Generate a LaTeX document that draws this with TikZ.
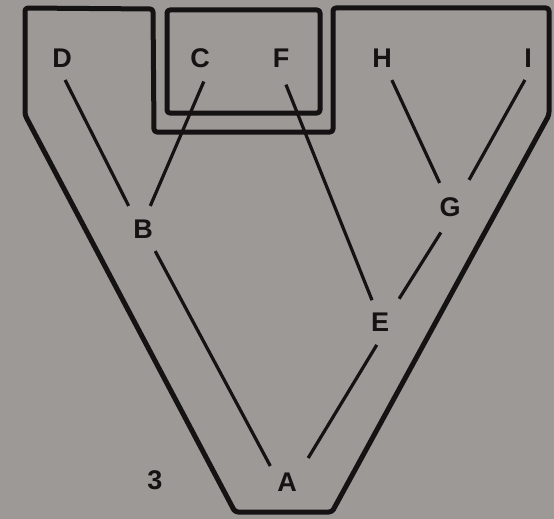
\documentclass[tikz,border=0pt]{standalone}
\usepackage{fontspec}
\setmainfont{Liberation Sans}
\definecolor{bg}{RGB}{156,153,151}
\definecolor{ink}{RGB}{20,18,18}
\begin{document}
\begin{tikzpicture}[x=1pt,y=-1pt,
  lbl/.style={circle,minimum size=44pt,inner sep=0pt,text=ink,font=\fontsize{27}{27}\selectfont\bfseries},
  edge/.style={draw=ink,line width=3.2pt},
  wall/.style={draw=ink,line width=5pt,line join=round,rounded corners=3pt}]
\fill[bg] (0,0) rectangle (554,519);
\useasboundingbox (0,0) rectangle (554,519);
% outline
\draw[wall] (25,8) -- (153,9) -- (154,132) -- (333,132) -- (333,8) -- (549,8)
  -- (549,115) -- (332,512) -- (235,512) -- (25,115) -- cycle;
\draw[wall] (167,10) rectangle (320,113);
% labels
\node[lbl] (D) at (62,58) {D};
\node[lbl] (C) at (200,58) {C};
\node[lbl] (F) at (281,58) {F};
\node[lbl] (H) at (382,58) {H};
\node[lbl] (I) at (528,58) {I};
\node[lbl] (B) at (143,229) {B};
\node[lbl] (G) at (450,207) {G};
\node[lbl] (E) at (380,322) {E};
\node[lbl] (A) at (287,482) {A};
\node[text=ink,font=\fontsize{27}{27}\selectfont\bfseries] (n3) at (155,480) {3};
% connectors
\draw[edge,shorten >=5pt] (D.-82) -- (B.123);
\draw[edge,shorten <=2pt,shorten >=2pt] (C.-78) -- (B.73);
\draw[edge,shorten <=3pt,shorten >=1pt] (B.-61) -- (A.137);
\draw[edge,shorten <=5pt,shorten >=1pt] (F.-82) -- (E.110);
\draw[edge,shorten <=5pt,shorten >=8pt] (G.253) -- (E.48);
\draw[edge,shorten <=1pt,shorten >=10pt] (E.-97) -- (A.44);
\draw[edge,shorten <=2pt,shorten >=4pt] (H.-66) -- (G.113);
\draw[edge,shorten >=11pt] (I.-98) -- (G.52);
\end{tikzpicture}
\end{document}
